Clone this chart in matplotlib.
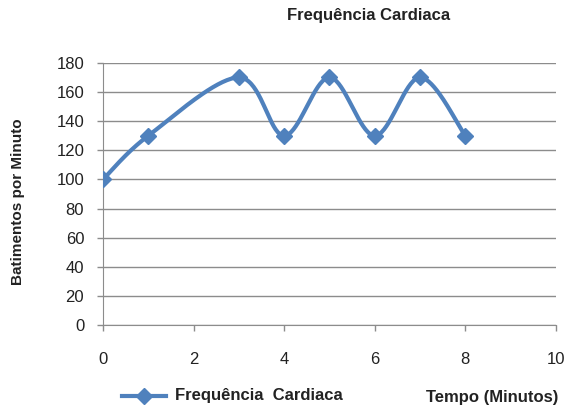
import matplotlib.pyplot as plt
import numpy as np

tempo = [0, 1, 3, 4, 5, 6, 7, 8]
batimentos = [100, 130, 170, 130, 170, 130, 170, 130]
x_ticks = [0, 2, 4, 6, 8, 10]
y_ticks = [0, 20, 40, 60, 80, 100, 120, 140, 160, 180]

blue = "#4f81bd"
grid_gray = "#8c8c8c"

plt.rcParams["font.family"] = ["Liberation Sans Narrow", "Liberation Sans", "DejaVu Sans"]


def smooth(xs, ys, n=40):
    # Excel-style smoothed line: cubic Bezier segments with Catmull-Rom control points
    xs = np.asarray(xs, float)
    ys = np.asarray(ys, float)
    px = np.concatenate([[xs[0]], xs, [xs[-1]]])
    py = np.concatenate([[ys[0]], ys, [ys[-1]]])
    out_x, out_y = [], []
    t = np.linspace(0, 1, n)
    for i in range(1, len(px) - 2):
        p0 = np.array([px[i], py[i]])
        p3 = np.array([px[i + 1], py[i + 1]])
        c1 = p0 + (np.array([px[i + 1], py[i + 1]]) - np.array([px[i - 1], py[i - 1]])) / 6
        c2 = p3 - (np.array([px[i + 2], py[i + 2]]) - np.array([px[i], py[i]])) / 6
        pts = ((1 - t) ** 3)[:, None] * p0 + (3 * (1 - t) ** 2 * t)[:, None] * c1 \
            + (3 * (1 - t) * t ** 2)[:, None] * c2 + (t ** 3)[:, None] * p3
        out_x.extend(pts[:, 0])
        out_y.extend(pts[:, 1])
    return out_x, out_y


fig = plt.figure(figsize=(5.77, 4.11), dpi=100)
ax = fig.add_axes([0.1785, 0.209, 0.785, 0.638])

sx, sy = smooth(tempo, batimentos)
ax.plot(sx, sy, color=blue, linewidth=3, zorder=3)
ax.plot(tempo, batimentos, linestyle="none", marker="D", markersize=8,
        color=blue, zorder=4)

ax.set_xlim(0, 10)
ax.set_ylim(0, 180)
ax.set_xticks(x_ticks)
ax.set_yticks(y_ticks)
ax.tick_params(axis="both", labelsize=12, colors=grid_gray, labelcolor="#222222",
               length=4.5, width=1)
ax.tick_params(axis="x", pad=15)
ax.tick_params(axis="y", pad=9)
ax.yaxis.grid(True, color=grid_gray, linewidth=1)
ax.set_axisbelow(True)
for side in ["top", "right"]:
    ax.spines[side].set_visible(False)
for side in ["left", "bottom"]:
    ax.spines[side].set_color(grid_gray)

fig.text(0.638, 0.962, "Frequência Cardiaca", ha="center", va="center",
         fontsize=12, fontweight="bold", color="#222222")
fig.text(0.032, 0.51, "Batimentos por Minuto", ha="center", va="center",
         rotation=90, fontsize=11, fontweight="bold", color="#222222")
fig.text(0.967, 0.032, "Tempo (Minutos)", ha="right", va="center",
         fontsize=12, fontweight="bold", color="#222222")

fig.lines.append(plt.Line2D([0.212, 0.287], [0.037, 0.037], color=blue, linewidth=3,
                            transform=fig.transFigure))
fig.lines.append(plt.Line2D([0.249], [0.037], color=blue, marker="D", markersize=8,
                            transform=fig.transFigure))
fig.text(0.303, 0.037, "Frequência  Cardiaca", ha="left", va="center",
         fontsize=12, fontweight="bold", color="#222222")

fig.savefig("out.png", dpi=100)
